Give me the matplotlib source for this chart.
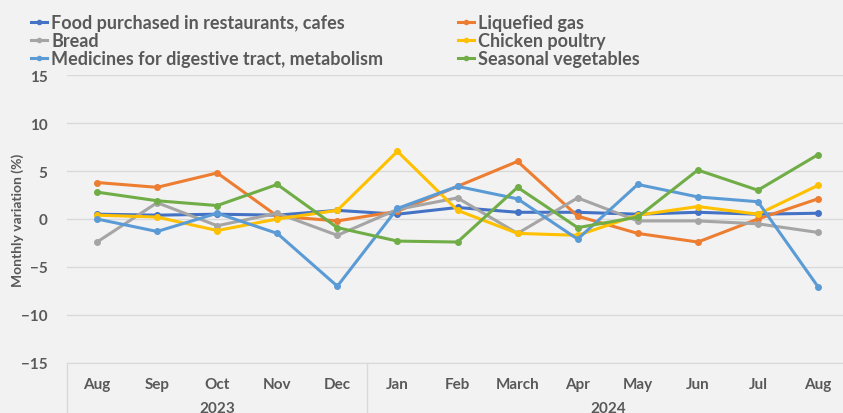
import matplotlib
matplotlib.use("Agg")
import matplotlib.pyplot as plt
from matplotlib.lines import Line2D

months = ["Aug", "Sep", "Oct", "Nov", "Dec", "Jan", "Feb", "March", "Apr", "May", "Jun", "Jul", "Aug"]
years = ["2023", "2024"]
year_spans = [5, 8]

food = [0.5, 0.4, 0.5, 0.4, 0.9, 0.5, 1.2, 0.7, 0.7, 0.5, 0.7, 0.5, 0.6]
gas = [3.8, 3.3, 4.8, 0.3, -0.2, 0.8, 3.4, 6.0, 0.3, -1.5, -2.4, 0.0, 2.1]
bread = [-2.4, 1.7, -0.7, 0.6, -1.7, 1.0, 2.2, -1.5, 2.2, -0.2, -0.2, -0.5, -1.4]
chicken = [0.4, 0.2, -1.2, 0.0, 0.9, 7.05, 0.9, -1.5, -1.7, 0.4, 1.3, 0.5, 3.5]
medicines = [0.0, -1.3, 0.6, -1.5, -7.0, 1.1, 3.4, 2.1, -2.1, 3.6, 2.3, 1.8, -7.05]
vegetables = [2.8, 1.9, 1.4, 3.6, -0.9, -2.3, -2.4, 3.3, -0.9, 0.2, 5.1, 3.0, 6.7]

series = [
    ("Food purchased in restaurants, cafes", food, "#4472C4"),
    ("Liquefied gas", gas, "#ED7D31"),
    ("Bread", bread, "#A5A5A5"),
    ("Chicken poultry", chicken, "#FFC000"),
    ("Medicines for digestive tract, metabolism", medicines, "#5B9BD5"),
    ("Seasonal vegetables", vegetables, "#70AD47"),
]

plt.rcParams['font.family'] = ['Lato', 'DejaVu Sans']
BG = "#F2F2F2"
TXT = "#595959"

fig = plt.figure(figsize=(8.43, 4.14), dpi=100, facecolor=BG)
ax = fig.add_axes([67 / 843, 50 / 414, (848 - 67) / 843, (364 - 76) / 414])
ax.set_facecolor(BG)

x = list(range(len(months)))
handles = {}
for name, vals, col in series:
    ax.plot(x, vals, color=col, lw=2.2, marker="o", ms=4, zorder=3)
    handles[name] = Line2D([0], [0], color=col, lw=2.2, marker="o", ms=3)

ax.set_xlim(-0.5, len(months) - 0.5)
ax.set_ylim(-15, 15)
ax.set_yticks([-15, -10, -5, 0, 5, 10, 15])
ax.yaxis.grid(True, color="#D9D9D9", lw=1)
ax.set_axisbelow(True)
for s in ["top", "right", "left"]:
    ax.spines[s].set_visible(False)
ax.spines["bottom"].set_color("#D9D9D9")
ax.tick_params(axis="y", length=0, pad=14, labelsize=11, labelcolor=TXT)
for lab in ax.get_yticklabels():
    lab.set_fontweight("bold")
ax.set_xticks(x)
ax.set_xticklabels(months, fontsize=11, color=TXT, fontweight="bold")
ax.tick_params(axis="x", length=0, pad=10)

# multi-level category separators and year labels
pos = -0.5
bounds = [pos]
for i, span in enumerate(year_spans):
    center = pos + span / 2
    ax.text(center, -0.155, years[i], transform=ax.get_xaxis_transform(),
            ha="center", va="center", fontsize=11, color=TXT, fontweight="bold")
    pos += span
    bounds.append(pos)
for b in bounds:
    ax.plot([b, b], [0, -0.2], transform=ax.get_xaxis_transform(), color="#D9D9D9",
            lw=1, clip_on=False)

fig.text(18 / 843, 1 - 220 / 414, "Monthly variation (%)", rotation=90, ha="center", va="center",
         fontsize=10, color=TXT, fontweight="bold")

# legend laid out row-wise (matplotlib fills columns first)
names = [s[0] for s in series]
order = names[0::2] + names[1::2]
leg = fig.legend([handles[n] for n in order], order, ncol=2, loc="upper left",
                 bbox_to_anchor=(24 / 843, 1 - 8 / 414), frameon=False,
                 prop={"size": 13, "weight": "bold"}, labelcolor=TXT,
                 handlelength=0.9, handletextpad=0.2, columnspacing=4.15,
                 labelspacing=0.05, borderaxespad=0)

fig.savefig("out.png", dpi=100, facecolor=BG)
